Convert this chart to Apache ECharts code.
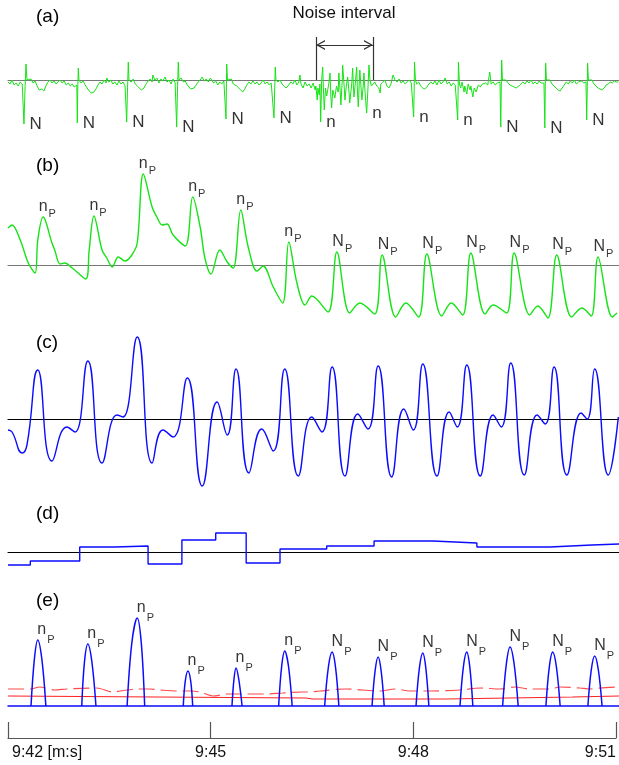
<!DOCTYPE html>
<html>
<head>
<meta charset="utf-8">
<script src="https://cdn.jsdelivr.net/npm/echarts@6/dist/echarts.min.js"></script>
<style>
  html, body { margin: 0; padding: 0; background: #fff; }
  #chart { width: 619px; height: 765px; }
</style>
</head>
<body>
<div id="chart"></div>
<script>
// x: seconds after 9:42, y: signal units above each panel's zero line

// (a) raw ECG with the noise burst
const ecgRaw = [
  [0.00,-2],[0.03,-4],[0.06,0],[0.09,-5],[0.12,-3],[0.15,-6],[0.18,-2],[0.21,-4],[0.229,-4],[0.236,-44],[0.251,-10],[0.266,16],[0.281,0],
  [0.31,-2],[0.34,1],[0.37,-3],[0.40,-1],[0.43,-6],[0.46,-10],[0.47,-12],[0.50,-9],[0.53,-11],[0.56,-6],[0.59,-2],[0.62,0],[0.65,-3],[0.68,-1],[0.71,-4],[0.74,-2],[0.77,0],[0.80,-3],[0.83,-1],[0.86,-5],[0.89,-3],[0.92,-6],[0.95,-4],[0.98,-7],[1.005,-5],[1.017,-5],[1.024,-43],[1.031,-10],[1.039,12],[1.049,0],
  [1.08,-3],[1.11,-1],[1.14,-5],[1.17,-8],[1.20,-11],[1.23,-13],[1.24,-15],[1.27,-12],[1.30,-9],[1.33,-5],[1.36,-2],[1.39,-4],[1.42,0],[1.45,-3],[1.46,2],[1.49,-2],[1.52,0],[1.55,-4],[1.58,-2],[1.61,-5],[1.64,-1],[1.67,-4],[1.70,-2],[1.73,-6],[1.747,-4],[1.754,-42],[1.766,-10],[1.778,18],[1.788,0],
  [1.82,-2],[1.85,1],[1.88,-4],[1.91,-6],[1.94,-8],[1.97,-10],[1.98,-11],[2.01,-8],[2.04,-4],[2.07,-1],[2.10,1],[2.13,-2],[2.14,5],[2.17,0],[2.20,2],[2.23,-3],[2.26,1],[2.29,-1],[2.32,3],[2.35,-2],[2.38,0],[2.41,-4],[2.44,1],[2.47,-3],[2.486,-2],[2.493,-47],[2.505,-10],[2.517,18],[2.527,0],
  [2.56,2],[2.59,-2],[2.62,-1],[2.65,-5],[2.67,-7],[2.70,-9],[2.72,-10],[2.75,-8],[2.78,-5],[2.81,-2],[2.84,0],[2.87,3],[2.90,-1],[2.93,1],[2.96,-2],[2.99,2],[3.01,0],[3.04,-3],[3.07,-1],[3.10,-5],[3.13,-2],[3.16,-4],[3.19,-1],[3.20,-3],[3.216,-3],[3.222,-39],[3.228,-8],[3.232,16],[3.244,0],
  [3.27,-2],[3.30,1],[3.33,-4],[3.35,-2],[3.38,-6],[3.41,-8],[3.44,-10],[3.47,-12],[3.50,-9],[3.53,-5],[3.56,-2],[3.59,-4],[3.62,-1],[3.65,-4],[3.68,-2],[3.71,-5],[3.74,-3],[3.77,0],[3.80,-4],[3.83,-2],[3.86,-5],[3.89,-3],[3.915,-4],[3.924,-4],[3.931,-38],[3.941,-10],[3.950,13],[3.960,0],
  [3.99,-2],[4.02,0],[4.05,-4],[4.08,-6],[4.11,-8],[4.12,-8],[4.15,-5],[4.18,-2],[4.21,-4],[4.24,0],[4.27,-5],[4.30,-2],[4.315,5],[4.33,-4],[4.36,-8],[4.39,-2],[4.42,-6],[4.45,-4],[4.48,-8],[4.51,-3],[4.54,-10],[4.55,-6],[4.57,-20],[4.58,-8],[4.60,-15],[4.61,-4],
  [4.621,-42],[4.636,0],[4.651,13],[4.662,-10],[4.674,-30],[4.692,-8],[4.71,-16],[4.74,-4],[4.76,7],[4.77,-15],[4.783,-28],[4.80,-10],[4.83,-18],[4.855,-6],[4.88,-12],[4.89,7],[4.91,-12],[4.92,-25],[4.94,0],[4.946,15],[4.97,-8],[4.98,-20],[5.00,-6],[5.02,3],[5.04,-12],[5.05,-23],[5.08,-4],[5.094,12],[5.106,-8],[5.113,-17],[5.135,-2],[5.153,13],[5.165,-12],[5.177,-27],[5.19,-5],[5.20,10],[5.22,-10],[5.23,-20],[5.25,-6],[5.26,7],[5.28,-15],[5.301,-33],[5.32,-8],[5.335,15],[5.35,0],[5.37,-6],[5.39,-4],
  [5.42,-2],[5.45,-6],[5.48,-8],[5.50,-13],[5.51,-4],[5.54,-2],[5.57,0],[5.60,-6],[5.63,-8],[5.66,-4],[5.69,5],[5.72,0],[5.75,-2],[5.78,1],[5.81,-3],[5.84,-1],[5.87,-4],[5.90,-2],[5.93,0],[5.96,-3],[5.985,-2],[5.990,-2],[5.995,-37],[6.003,-8],[6.008,18],[6.021,0],
  [6.04,-4],[6.07,-2],[6.10,-6],[6.13,-8],[6.16,-9],[6.19,-7],[6.22,-4],[6.25,-2],[6.28,-4],[6.31,-1],[6.34,-5],[6.37,0],[6.40,-4],[6.43,-2],[6.46,2],[6.49,-4],[6.52,-2],[6.55,-6],[6.58,-3],[6.61,-5],[6.635,-4],[6.640,-4],[6.646,-40],[6.653,-8],[6.657,18],[6.672,-4],
  [6.69,-8],[6.71,-2],[6.74,-12],[6.75,-6],[6.78,-14],[6.80,-4],[6.83,-10],[6.84,-6],[6.87,-17],[6.89,-8],[6.92,-12],[6.95,-5],[6.98,-7],[7.01,-4],[7.03,-6],[7.06,-3],[7.09,-5],[7.12,8],[7.14,-4],[7.17,-2],[7.20,-5],[7.23,-3],[7.256,-4],[7.271,-2],[7.278,-2],[7.283,-47],[7.290,-8],[7.296,20],[7.308,0],
  [7.33,-2],[7.36,0],[7.39,-3],[7.42,-5],[7.45,-6],[7.48,-7],[7.51,-8],[7.52,-8],[7.55,-6],[7.58,-4],[7.61,-2],[7.64,-4],[7.67,-1],[7.70,-3],[7.73,0],[7.76,-4],[7.79,-2],[7.82,-4],[7.85,-1],[7.88,-3],[7.906,-2],[7.921,-3],[7.928,-3],[7.934,-48],[7.940,-8],[7.946,17],[7.958,0],
  [7.98,-2],[8.01,0],[8.04,-4],[8.07,-6],[8.10,-8],[8.13,-10],[8.16,-11],[8.19,-8],[8.22,-5],[8.25,-2],[8.28,-4],[8.31,-1],[8.34,-3],[8.37,0],[8.40,-4],[8.43,-2],[8.45,-4],[8.48,-1],[8.51,-3],[8.542,-2],[8.549,-2],[8.553,-40],[8.561,-8],[8.566,17],[8.578,0],
  [8.60,-2],[8.63,0],[8.66,-4],[8.69,-6],[8.72,-8],[8.75,-9],[8.78,-10],[8.81,-8],[8.84,-5],[8.87,-4],[8.90,-2],[8.93,-3],[8.96,-1],[8.99,-2],[9.02,-2]
];
const spikeMarks = [[0.236,-44],[1.024,-43],[1.754,-42],[2.493,-47],[3.222,-39],[3.931,-38],[4.621,-42],[5.301,-33],[5.995,-37],[6.646,-40],[7.283,-47],[7.934,-48],[8.553,-40]];
const spikeClasses = ['N','N','N','N','N','N','n','n','n','n','N','N','N'];
const noiseInterval = [4.552, 5.394];

// (b) filtered signal
const ecgFiltered = [
  [0.00,37],[0.06,40],[0.18,25],[0.30,2],[0.40,-8],[0.44,25],[0.52,48],[0.65,22],[0.69,15],[0.77,1],[0.84,2],[0.95,-3],
  [1.15,-14],[1.20,15],[1.27,49],[1.39,15],[1.46,7],[1.54,-2],[1.63,8],[1.73,4],[1.83,10],[1.91,22],[2.00,91],[2.13,58],
  [2.20,48],[2.28,40],[2.35,41],[2.44,30],[2.62,19],[2.73,68],[2.84,38],[2.91,7],[3.00,-9],[3.13,15],[3.24,3],[3.33,-3],
  [3.44,55],[3.55,18],[3.68,-6],[3.77,-1],[3.92,-22],[4.06,-38],[4.15,23],[4.27,-18],[4.39,-40],[4.49,-31],[4.73,-47],
  [4.86,13],[5.05,-48],[5.20,-38],[5.42,-49],[5.53,10],[5.73,-52],[5.88,-38],[6.07,-52],[6.19,11],[6.41,-51],[6.55,-38],
  [6.72,-50],[6.84,12],[7.05,-49],[7.17,-40],[7.37,-48],[7.48,12],[7.71,-50],[7.83,-41],[7.98,-53],[8.11,10],[8.33,-52],
  [8.48,-43],[8.62,-51],[8.72,8],[8.93,-52],[9.00,-48]
];
const peakMarksB = [[0.52,48],[1.27,49],[2.00,91],[2.73,68],[3.44,55],[4.15,23],[4.86,13],[5.53,10],[6.19,11],[6.84,12],[7.48,12],[8.11,10],[8.72,8]];
const peakClasses = ['n','n','n','n','n','n','N','N','N','N','N','N','N'];

// (c) band-passed signal
const bandPass = [
  [0.00,-11],[0.06,-13],[0.21,-34],[0.28,-26],[0.44,49],[0.65,-42],[0.87,-8],[0.99,-13],[1.18,58],[1.39,-44],[1.61,4],
  [1.70,2],[1.91,82],[2.13,-44],[2.29,-11],[2.44,-18],[2.65,41],[2.87,-67],[3.09,17],[3.24,-16],[3.37,50],[3.56,-54],
  [3.75,-10],[3.92,-32],[4.09,50],[4.29,-57],[4.49,2],[4.64,-13],[4.79,52],[4.98,-57],[5.17,5],[5.32,-10],[5.47,53],
  [5.67,-58],[5.85,10],[5.99,-11],[6.13,55],[6.34,-57],[6.52,7],[6.64,-8],[6.78,54],[6.98,-57],[7.17,4],[7.29,-8],
  [7.43,56],[7.63,-56],[7.82,4],[7.94,-5],[8.07,52],[8.26,-56],[8.47,6],[8.56,0],[8.67,50],[8.87,-56],[9.02,2]
];

// (d) level steps
const levelSteps = [[0,-13],[0.33,-9],[1.06,5],[1.58,6],[2.07,-12],[2.57,12],[3.07,19],[3.52,-11],[4.02,3],[4.71,6],[5.41,11],[6.28,9],[6.93,5],[8.01,7],[8.63,8],[9.03,8]];

// (e) detected peaks and thresholds
const peakPulses = [
  [[0.34,0],[0.39,47],[0.44,66],[0.50,47],[0.56,0]],
  [[1.09,0],[1.13,44],[1.18,62],[1.24,44],[1.30,0]],
  [[1.76,0],[1.83,63],[1.91,88],[1.97,63],[2.02,0]],
  [[2.59,0],[2.62,25],[2.66,35],[2.70,25],[2.73,0]],
  [[3.31,0],[3.34,27],[3.37,38],[3.41,27],[3.46,0]],
  [[4.00,0],[4.045,40],[4.09,55],[4.145,40],[4.20,0]],
  [[4.68,0],[4.735,39],[4.79,54],[4.84,39],[4.89,0]],
  [[5.38,0],[5.425,35],[5.47,49],[5.515,35],[5.56,0]],
  [[6.03,0],[6.08,38],[6.13,53],[6.175,38],[6.22,0]],
  [[6.68,0],[6.73,39],[6.78,54],[6.825,39],[6.87,0]],
  [[7.31,0],[7.365,42],[7.42,59],[7.48,42],[7.54,0]],
  [[7.95,0],[8.00,39],[8.05,54],[8.105,39],[8.16,0]],
  [[8.57,0],[8.62,36],[8.67,50],[8.725,36],[8.78,0]]
];
const thresholdLow = [[0,10],[2.2,9],[4.4,8],[4.5,7],[6.48,7],[6.50,9],[8.34,9],[8.36,10],[9.03,10]];
const thresholdHigh = [
  [0.00,17],[0.33,17],[0.47,19],[0.69,16],[0.87,17],[1.31,18],[1.55,14],[1.66,15],[1.91,17],[2.10,17],[2.25,16],[2.50,15],
  [2.69,15],[2.84,14],[3.03,10],[3.24,12],[3.43,12],[3.77,12],[4.06,13],[4.32,14],[4.46,14],[4.61,15],[4.98,17],[5.50,15],
  [5.72,17],[5.94,15],[6.24,15],[6.68,16],[6.98,18],[7.27,17],[7.49,19],[7.71,17],[8.01,17],[8.16,19],[8.45,18],[8.60,17],
  [8.75,18],[9.03,19]
];

const tickLabels = ['9:42 [m:s]', '9:45', '9:48', '9:51'];
const panelTags = ['(a)', '(b)', '(c)', '(d)', '(e)'];

const FONT = "'Liberation Sans', Arial, Helvetica, sans-serif";
const GREEN = '#16e316';
const BLUE = '#0b0bff';
const ARROW = 'path://M0,10 L5,0 L10,10 L8.6,10 L5,2.8 L1.4,10 Z';

const panels = [
  { top: 30,  height: 110, min: -60, max: 50,  base: '#777', tagY: 17 },
  { top: 150, height: 180, min: -65, max: 115, base: '#777', tagY: 166 },
  { top: 330, height: 165, min: -76, max: 89,  base: '#000', tagY: 343 },
  { top: 520, height: 55,  min: -23, max: 32,  base: '#000', tagY: 514 },
  { top: 600, height: 110, min: -4,  max: 106, base: BLUE,   tagY: 601 }
];

const grid = panels.map(p => ({ left: 8, right: 0, top: p.top, height: p.height }));
grid.push({ left: 8, right: 2, top: 700, height: 38 });

const xAxis = panels.map((p, i) => ({
  type: 'value', gridIndex: i, min: 0, max: 9.03,
  axisLine: { onZero: true, lineStyle: { color: p.base, width: i === 4 ? 1.5 : 1.2 } },
  axisTick: { show: false }, axisLabel: { show: false }, splitLine: { show: false }
}));
xAxis.push({
  type: 'value', gridIndex: 5, min: 0, max: 9, interval: 3, position: 'bottom',
  axisLine: { onZero: false, lineStyle: { color: '#555', width: 1.2 } },
  axisTick: { inside: true, length: 16, lineStyle: { color: '#555', width: 1.2 } },
  axisLabel: {
    margin: 7, fontSize: 16, color: '#111', fontFamily: FONT,
    alignMinLabel: 'left', alignMaxLabel: 'right',
    rich: { first: { fontSize: 16, fontFamily: FONT, color: '#111', padding: [0, 0, 0, 4] } },
    formatter: v => (v === 0 ? '{first|' + tickLabels[0] + '}' : tickLabels[Math.round(v / 3)])
  },
  splitLine: { show: false }
});

const yAxis = panels.map((p, i) => ({ type: 'value', gridIndex: i, min: p.min, max: p.max, show: false }));
yAxis.push({ type: 'value', gridIndex: 5, min: 0, max: 1, show: false });

function line(idx, data, color, extra) {
  return Object.assign({
    type: 'line', xAxisIndex: idx, yAxisIndex: idx, data: data,
    symbol: 'none', silent: true, animation: false,
    lineStyle: { color: color, width: 1.4 }
  }, extra || {});
}

function peakLabels(idx, marks, classes, dx, dy, subDrop) {
  const rich = {
    m: { fontSize: 16, lineHeight: 16, verticalAlign: 'top', fontFamily: FONT, color: '#000' },
    s: { fontSize: 11, padding: [subDrop, 0, 0, 1], verticalAlign: 'top', fontFamily: FONT, color: '#000' }
  };
  return {
    type: 'scatter', xAxisIndex: idx, yAxisIndex: idx, silent: true, animation: false,
    symbolSize: 1, itemStyle: { color: 'rgba(0,0,0,0)' },
    label: { show: true, position: [dx, dy], align: 'left', verticalAlign: 'bottom', rich: rich },
    data: marks.map((m, i) => ({ value: m, label: { formatter: '{m|' + classes[i] + '}{s|P}' } }))
  };
}

const pulseLine = [];
peakPulses.forEach(p => { pulseLine.push(...p, [p[p.length - 1][0] + 0.01, null]); });

const series = [
  line(0, ecgRaw, GREEN, {
    lineStyle: { color: GREEN, width: 1 },
    markLine: {
      silent: true, animation: false, symbol: 'none',
      label: { show: false },
      lineStyle: { color: '#333', width: 1.2, type: 'solid' },
      data: [
        [{ coord: [noiseInterval[0], 0] }, { coord: [noiseInterval[0], 43] }],
        [{ coord: [noiseInterval[1], 0] }, { coord: [noiseInterval[1], 43] }],
        [{ coord: [noiseInterval[0], 35], symbol: ARROW, symbolSize: [10, 9], symbolOffset: [0, 4.5] },
         { coord: [noiseInterval[1], 35], symbol: ARROW, symbolSize: [10, 9], symbolOffset: [0, 4.5] }]
      ]
    }
  }),
  {
    type: 'scatter', xAxisIndex: 0, yAxisIndex: 0, silent: true, animation: false,
    symbolSize: 1, itemStyle: { color: 'rgba(0,0,0,0)' },
    label: { show: true, position: 'right', distance: 5, fontSize: 17, fontFamily: FONT, color: '#000' },
    data: spikeMarks.map((m, i) => ({ value: m, label: { formatter: spikeClasses[i] } }))
  },
  line(1, ecgFiltered, GREEN, { smooth: 0.35 }),
  peakLabels(1, peakMarksB, peakClasses, -4, 3, 10),
  line(2, bandPass, BLUE, { smooth: 0.5 }),
  line(3, levelSteps, BLUE, { step: 'end' }),
  line(4, thresholdLow, '#ff2020', { lineStyle: { color: '#ff2020', width: 1.2 } }),
  line(4, thresholdHigh, '#ff4a4a', { smooth: 0.3, lineStyle: { color: '#ff4a4a', width: 1.2, type: [16, 6] } }),
  line(4, pulseLine, BLUE, { smooth: 0.35, connectNulls: false, lineStyle: { color: BLUE, width: 1.5 } }),
  peakLabels(4, peakPulses.map(p => p[2]), peakClasses, 0, 6, 13)
];

const graphic = panels.map((p, i) => ({
  type: 'text', x: 36, y: p.tagY, silent: true,
  style: { text: panelTags[i], fontSize: 19, fontFamily: FONT, fill: '#000', verticalAlign: 'middle' }
}));
graphic.push({
  type: 'text', x: 344, y: 13, silent: true,
  style: { text: 'Noise interval', fontSize: 17, fontFamily: FONT, fill: '#111', align: 'center', verticalAlign: 'middle' }
});

const chart = echarts.init(document.getElementById('chart'));
chart.setOption({
  animation: false,
  backgroundColor: '#fff',
  grid: grid,
  xAxis: xAxis,
  yAxis: yAxis,
  series: series,
  graphic: graphic
});
</script>
</body>
</html>
